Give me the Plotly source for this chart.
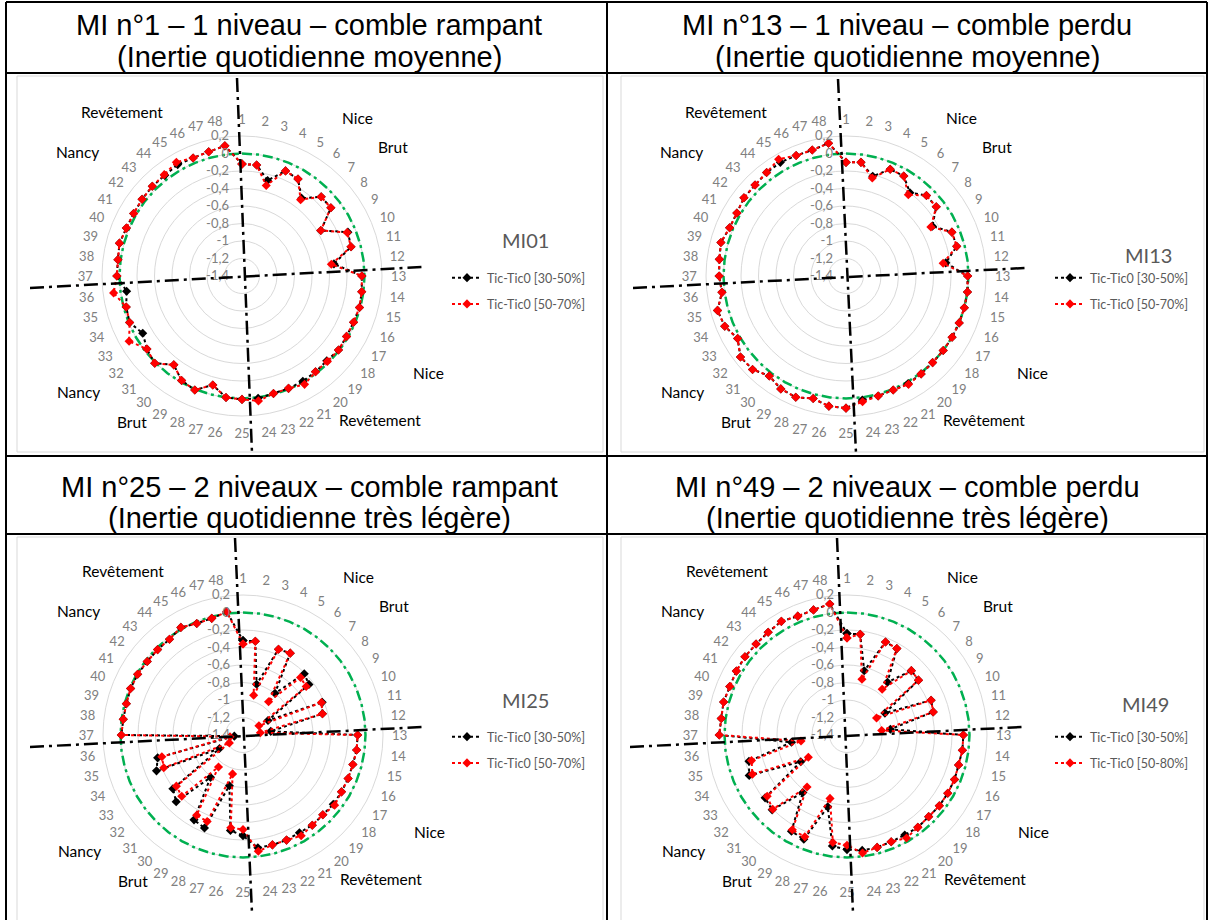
import plotly.graph_objects as go

W, H = 1212, 920

categories = [str(i) for i in range(1, 49)]
radial_vals = [-1.4, -1.2, -1.0, -0.8, -0.6, -0.4, -0.2, 0.0, 0.2]
radial_text = ["-1,4", "-1,2", "-1", "-0,8", "-0,6", "-0,4", "-0,2", "0", "0,2"]
ref_level = 0.0

mi01_a = [-0.12, -0.12, -0.27, -0.10, -0.12, -0.28, -0.12, -0.12, -0.36, -0.09, -0.11, -0.34,
          -0.03, -0.02, -0.01, -0.02, -0.02, -0.01, -0.03, -0.02, -0.01, -0.01, -0.01, 0.01,
          0.01, 0.00, -0.11, 0.01, -0.02, -0.12, 0.01, -0.03, -0.09, -0.01, -0.03, -0.07,
          0.03, 0.03, 0.05, 0.03, 0.03, 0.04, 0.05, 0.05, 0.07, 0.06, 0.07, 0.10]
mi01_b = [-0.12, -0.12, -0.33, -0.10, -0.12, -0.30, -0.12, -0.12, -0.36, -0.10, -0.11, -0.37,
          -0.03, -0.02, -0.01, -0.02, -0.02, -0.01, -0.02, -0.02, 0.03, -0.01, -0.01, 0.04,
          0.01, 0.00, -0.11, 0.01, -0.02, -0.12, 0.01, -0.03, 0.09, -0.01, -0.03, 0.08,
          0.03, 0.03, 0.05, 0.03, 0.03, 0.04, 0.05, 0.06, 0.10, 0.06, 0.07, 0.10]

mi13_a = [-0.10, -0.09, -0.22, -0.08, -0.08, -0.20, -0.10, -0.10, -0.26, -0.09, -0.09, -0.25,
          -0.01, 0.00, 0.00, 0.00, 0.00, 0.00, 0.00, 0.01, 0.02, 0.01, 0.02, 0.03,
          0.11, 0.10, 0.05, 0.10, 0.09, 0.04, 0.11, 0.12, 0.03, 0.10, 0.12, 0.03,
          0.05, 0.06, 0.08, 0.04, 0.04, 0.07, 0.07, 0.09, 0.10, 0.09, 0.09, 0.13]
mi13_b = [-0.10, -0.09, -0.24, -0.08, -0.08, -0.23, -0.10, -0.10, -0.28, -0.09, -0.09, -0.28,
          -0.01, 0.00, 0.00, 0.00, 0.00, 0.00, 0.00, 0.01, 0.03, 0.01, 0.02, 0.05,
          0.11, 0.10, 0.05, 0.10, 0.09, 0.04, 0.11, 0.12, 0.03, 0.10, 0.12, 0.03,
          0.05, 0.06, 0.08, 0.04, 0.04, 0.07, 0.07, 0.09, 0.14, 0.09, 0.09, 0.13]

mi25_a = [-0.32, -0.32, -0.80, -0.34, -0.32, -0.80, -0.41, -0.45, -1.07, -0.42, -0.46, -1.08,
          -0.09, -0.09, -0.10, -0.10, -0.10, -0.10, -0.11, -0.10, -0.11, -0.10, -0.10, -0.10,
          -0.25, -0.30, -0.80, -0.25, -0.28, -0.79, -0.32, -0.39, -1.09, -0.33, -0.39, -1.30,
          -0.01, -0.02, -0.02, -0.01, -0.01, -0.02, -0.02, -0.02, 0.02, -0.02, -0.02, 0.02]
mi25_b = [-0.36, -0.32, -0.93, -0.34, -0.32, -0.92, -0.47, -0.49, -1.19, -0.43, -0.46, -1.20,
          -0.09, -0.09, -0.10, -0.10, -0.10, -0.08, -0.11, -0.10, -0.07, -0.10, -0.10, -0.06,
          -0.32, -0.33, -0.94, -0.33, -0.34, -0.94, -0.41, -0.44, -1.22, -0.42, -0.44, -1.25,
          -0.01, -0.02, -0.02, -0.01, -0.01, -0.02, -0.02, -0.02, 0.02, -0.02, -0.02, 0.02]

mi49_a = [-0.24, -0.24, -0.64, -0.25, -0.26, -0.64, -0.36, -0.37, -0.90, -0.36, -0.38, -0.90,
          -0.07, -0.07, -0.08, -0.07, -0.07, -0.07, -0.08, -0.07, -0.08, -0.08, -0.07, -0.07,
          -0.09, -0.12, -0.55, -0.11, -0.13, -0.57, -0.19, -0.22, -0.79, -0.19, -0.24, -0.76,
          0.06, 0.05, 0.06, 0.05, 0.06, 0.07, 0.07, 0.08, 0.10, 0.07, 0.08, 0.11]
mi49_b = [-0.29, -0.24, -0.74, -0.25, -0.26, -0.74, -0.36, -0.37, -1.01, -0.36, -0.38, -1.00,
          -0.07, -0.07, -0.08, -0.07, -0.07, -0.07, -0.08, -0.07, -0.04, -0.08, -0.07, -0.04,
          -0.14, -0.16, -0.65, -0.14, -0.15, -0.65, -0.20, -0.25, -0.89, -0.23, -0.27, -0.87,
          0.06, 0.05, 0.06, 0.05, 0.06, 0.07, 0.07, 0.08, 0.10, 0.07, 0.08, 0.11]

chart_ids = ["MI01", "MI13", "MI25", "MI49"]
series_a_name = "Tic-Tic0 [30-50%]"
series_b_names = ["Tic-Tic0 [50-70%]", "Tic-Tic0 [50-70%]", "Tic-Tic0 [50-70%]", "Tic-Tic0 [50-80%]"]
title_line1 = [
    "MI n°1 – 1 niveau – comble rampant",
    "MI n°13 – 1 niveau – comble perdu",
    "MI n°25 – 2 niveaux – comble rampant",
    "MI n°49 – 2 niveaux – comble perdu",
]
title_line2 = [
    "(Inertie quotidienne moyenne)",
    "(Inertie quotidienne moyenne)",
    "(Inertie quotidienne très légère)",
    "(Inertie quotidienne très légère)",
]
data_a = [mi01_a, mi13_a, mi25_a, mi49_a]
data_b = [mi01_b, mi13_b, mi25_b, mi49_b]


def px(x):
    return x / W


def py(y):
    return 1 - y / H


FONT = "Lato, Calibri, sans-serif"
GRAY = "#808080"
centers = [(242, 276), (846, 276), (243, 735), (847, 735)]
R = 140

fig = go.Figure()
layout_extra = {}
legend_keys = ["legend", "legend2", "legend3", "legend4"]
polar_keys = ["polar", "polar2", "polar3", "polar4"]
subplot_ids = ["polar", "polar2", "polar3", "polar4"]


def closed(v):
    return list(v) + [v[0]]


theta_c = closed(categories)

for i in range(4):
    cx, cy = centers[i]
    fig.add_trace(go.Scatterpolar(
        r=closed([ref_level] * len(categories)), theta=theta_c, mode="lines",
        line=dict(color="#00b050", width=2.5, dash="10px,4px,3px,4px"),
        showlegend=False, hoverinfo="skip", subplot=subplot_ids[i]))
    fig.add_trace(go.Scatterpolar(
        r=closed(data_a[i]), theta=theta_c, mode="lines+markers", name=series_a_name,
        line=dict(color="black", width=2, dash="dot"),
        marker=dict(symbol="diamond", size=7, color="black"),
        subplot=subplot_ids[i], legend=legend_keys[i], legendgroup=f"a{i}"))
    fig.add_trace(go.Scatterpolar(
        r=closed(data_b[i]), theta=theta_c, mode="lines+markers", name=series_b_names[i],
        line=dict(color="red", width=2, dash="dot"),
        marker=dict(symbol="diamond", size=7, color="red"),
        subplot=subplot_ids[i], legend=legend_keys[i], legendgroup=f"b{i}"))
    layout_extra[polar_keys[i]] = dict(
        domain=dict(x=[px(cx - R), px(cx + R)], y=[py(cy + R), py(cy - R)]),
        bgcolor="white",
        angularaxis=dict(type="category", categoryarray=categories, rotation=90,
                         direction="clockwise", showgrid=False, showline=True,
                         linecolor="#d9d9d9", linewidth=1, ticks="outside", ticklen=6,
                         tickcolor="rgba(0,0,0,0)",
                         tickfont=dict(family=FONT, size=13, color=GRAY)),
        radialaxis=dict(range=[-1.4, 0.2], tickvals=radial_vals, ticktext=radial_text,
                        angle=90, showline=False, gridcolor="#d9d9d9", gridwidth=1,
                        ticks="outside", ticklen=8, tickcolor="rgba(0,0,0,0)",
                        side="counterclockwise", tickangle=90,
                        tickfont=dict(family=FONT, size=13, color=GRAY)),
    )

legend_pos = [(447, 263), (1050, 263), (447, 722), (1050, 722)]
for i in range(4):
    lx, ly = legend_pos[i]
    layout_extra[legend_keys[i]] = dict(
        x=px(lx), y=py(ly), xanchor="left", yanchor="top",
        bgcolor="rgba(0,0,0,0)", traceorder="grouped", tracegroupgap=7,
        font=dict(family=FONT, size=12.5, color="#595959"))

fig.update_layout(width=W, height=H, margin=dict(l=0, r=0, t=0, b=0),
                  paper_bgcolor="white", plot_bgcolor="white", **layout_extra)

shapes = []
BORDER = dict(color="black", width=2)
for (x0, y0, x1, y1) in [(6, 2, 1207, 2), (6, 2, 6, 920), (1207, 2, 1207, 920),
                         (607, 2, 607, 920), (6, 73, 1207, 73), (6, 456, 1207, 456),
                         (6, 534, 1207, 534)]:
    shapes.append(dict(type="line", xref="paper", yref="paper", x0=px(x0), y0=py(y0),
                       x1=px(x1), y1=py(y1), line=BORDER, layer="above"))
for (x0, y0, x1, y1) in [(17, 76, 603, 452), (621, 76, 1204, 452),
                         (17, 537, 603, 925), (621, 537, 1204, 925)]:
    shapes.append(dict(type="rect", xref="paper", yref="paper", x0=px(x0), y0=py(y0),
                       x1=px(x1), y1=py(y1), line=dict(color="#d9d9d9", width=1),
                       layer="below"))
AXL = dict(color="black", width=2.5, dash="14px,5px,3px,5px")
for (x0, y0, x1, y1) in [(237, 78, 252, 453), (30, 288, 423, 267),
                         (838, 79, 856, 453), (633, 288, 1025, 268),
                         (235, 538, 252, 913), (30, 747, 422, 727),
                         (837, 538, 853, 913), (630, 747, 1022, 727)]:
    shapes.append(dict(type="line", xref="paper", yref="paper", x0=px(x0), y0=py(y0),
                       x1=px(x1), y1=py(y1), line=AXL, layer="above"))
fig.update_layout(shapes=shapes)

ann = []
title_pos = [(309, 25, 57), (907, 25, 57), (309, 487, 518), (907, 487, 518)]
for i in range(4):
    tx, ty1, ty2 = title_pos[i]
    for txt, ty in ((title_line1[i], ty1), (title_line2[i], ty2)):
        ann.append(dict(text=txt, x=px(tx), y=py(ty), xref="paper", yref="paper",
                        showarrow=False, xanchor="center", yanchor="middle",
                        font=dict(family="Liberation Sans, Arial", size=29, color="black")))
id_pos = [(525, 240), (1148, 255), (525, 700), (1145, 704)]
for i in range(4):
    ix, iy = id_pos[i]
    ann.append(dict(text=chart_ids[i], x=px(ix), y=py(iy), xref="paper", yref="paper",
                    showarrow=False, xanchor="center", yanchor="middle",
                    font=dict(family=FONT, size=20, color="#595959")))
region_labels = ["Revêtement", "Nice", "Brut", "Nancy", "Nancy", "Brut", "Revêtement", "Nice"]
region_off = [(-120, -164), (115, -158), (151, -129), (-165, -124), (-164, 116),
              (-110, 146), (138, 144), (186, 97)]
for i in range(4):
    cx, cy = centers[i]
    for lab, (dx, dy) in zip(region_labels, region_off):
        ann.append(dict(text=lab, x=px(cx + dx), y=py(cy + dy), xref="paper", yref="paper",
                        showarrow=False, xanchor="center", yanchor="middle",
                        font=dict(family=FONT, size=15.5, color="black")))
fig.update_layout(annotations=ann, separators=", ")

fig.write_html("out.html", config={"displayModeBar": False},
               post_script="document.body.style.margin='0';")
